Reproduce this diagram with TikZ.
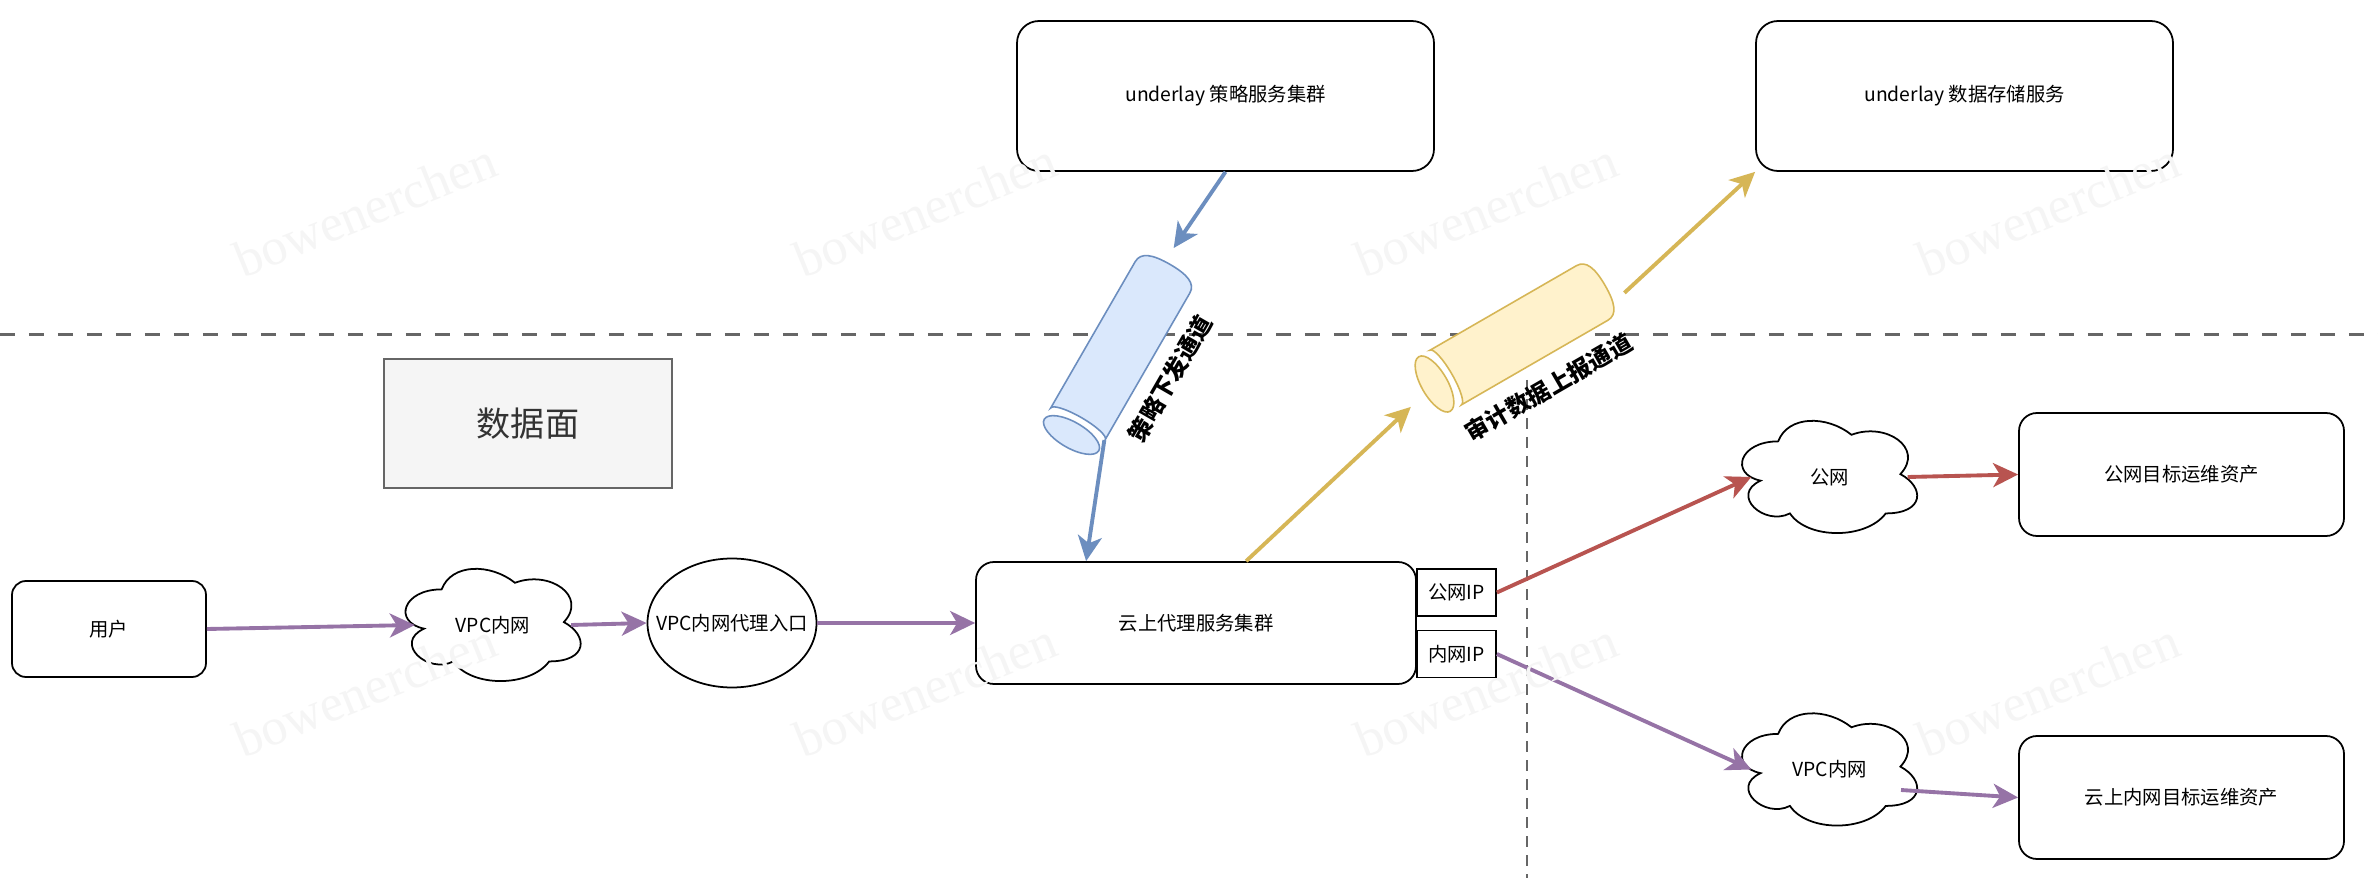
\documentclass[tikz,border=0pt]{standalone}
\usepackage{fontspec}
\setmainfont{Noto Sans CJK SC}
\newfontfamily\markfont{Liberation Serif}
\usetikzlibrary{arrows.meta,shapes.geometric,calc}

\definecolor{edgegray}{HTML}{666666}
\definecolor{flowpurple}{HTML}{9673A6}
\definecolor{flowred}{HTML}{B85450}
\definecolor{flowblue}{HTML}{6C8EBF}
\definecolor{flowyellow}{HTML}{D6B656}
\definecolor{pipeblue}{HTML}{DAE8FC}
\definecolor{pipeyellow}{HTML}{FFF2CC}
\definecolor{planefill}{HTML}{F5F5F5}
\definecolor{planetext}{HTML}{333333}

\tikzset{
  box/.style={draw, line width=0.5pt, rounded corners=0.18cm, fill=white},
  ipbox/.style={draw, line width=0.5pt, fill=white, inner sep=0pt, minimum width=0.79cm, minimum height=0.47cm},
  netcloud/.style={ellipse, inner sep=0pt, minimum width=1.55cm, minimum height=1.0cm},
  planebox/.style={draw=edgegray, fill=planefill, line width=0.45pt, minimum width=2.88cm, minimum height=1.29cm, text=planetext, font=\fontsize{9.7}{11.6}\selectfont},
  flow/.style={line width=1.1pt, -{Stealth[length=0.25cm, width=0.24cm, inset=0.07cm]}},
  pipelabel/.style={font=\fontsize{6.7}{8}\selectfont\bfseries},
  watermark/.style={font=\markfont\fontsize{14.8}{16}\selectfont, text=black!4, rotate=22}
}

% cloud outline drawn round an ellipse node
\newcommand{\drawnetcloud}[1]{%
  \begin{scope}[shift={(#1.center)}, x=1.955cm, y=-1.31cm, shift={(-0.5125,-0.522)}]
    \draw[line width=0.5pt] (0.25,0.25) .. controls (0.05,0.25) and (0,0.5) .. (0.16,0.55)
      .. controls (0,0.66) and (0.18,0.9) .. (0.31,0.8)
      .. controls (0.4,1) and (0.7,1) .. (0.8,0.8)
      .. controls (1,0.8) and (1,0.6) .. (0.875,0.5)
      .. controls (1,0.3) and (0.8,0.1) .. (0.625,0.2)
      .. controls (0.5,0.05) and (0.3,0.05) .. (0.25,0.25) -- cycle;
  \end{scope}}

\begin{document}
\begin{tikzpicture}[font=\fontsize{5.5}{6.6}\selectfont]
\useasboundingbox (0,0) rectangle (23.78,-8.78);
\fill[white] (0,0) rectangle (23.78,-8.78);

% plane dividers
\draw[edgegray, line width=1.1pt, dash pattern=on 0.15cm off 0.14cm] (0,-3.345) -- (23.78,-3.345);
\draw[edgegray, line width=0.8pt, dash pattern=on 0.11cm off 0.08cm] (15.27,-3.8) -- (15.27,-8.78);
\node[planebox] (plane) at (5.28,-4.235) {数据面};

% control side
\node[box, rounded corners=0.22cm, minimum width=4.17cm, minimum height=1.5cm] (policy) at (12.255,-0.96) {underlay 策略服务集群};
\node[box, rounded corners=0.22cm, minimum width=4.17cm, minimum height=1.5cm] (store) at (19.645,-0.96) {underlay 数据存储服务};

% data path
\node[box, rounded corners=0.14cm, minimum width=1.94cm, minimum height=0.96cm] (user) at (1.09,-6.29) {用户};
\node[netcloud] (vpcin) at (4.93,-6.25) {VPC内网};
\node[draw, ellipse, line width=0.5pt, inner sep=0pt, minimum width=1.69cm, minimum height=1.29cm, label=center:{VPC内网代理入口}] (entry) at (7.32,-6.23) {};
\node[box, minimum width=4.4cm, minimum height=1.22cm] (proxy) at (11.96,-6.23) {云上代理服务集群};
\node[ipbox] (pubip) at (14.565,-5.925) {公网IP};
\node[ipbox] (priip) at (14.565,-6.54) {内网IP};

\node[netcloud] (pubnet) at (18.295,-4.77) {公网};
\node[box, minimum width=3.25cm, minimum height=1.23cm] (pubasset) at (21.815,-4.745) {公网目标运维资产};
\node[netcloud] (vpcout) at (18.295,-7.695) {VPC内网};
\node[box, minimum width=3.25cm, minimum height=1.23cm] (priasset) at (21.815,-7.975) {云上内网目标运维资产};

\drawnetcloud{vpcin}
\drawnetcloud{pubnet}
\drawnetcloud{vpcout}

% policy pipe
\begin{scope}[shift={(10.715,-4.35)}, rotate=60]
  \draw[flowblue, fill=pipeblue, line width=0.45pt] (0.13,-0.315) arc[start angle=-90, end angle=90, x radius=0.07, y radius=0.315] -- (1.82,0.315) .. controls (1.93,0.315) and (1.97,0.2) .. (1.97,0) .. controls (1.97,-0.2) and (1.93,-0.315) .. (1.82,-0.315) -- cycle;
  \draw[flowblue, fill=pipeblue, line width=0.45pt] (0,0) ellipse[x radius=0.13, y radius=0.315];
  \coordinate (bluenear) at (0.12,-0.31);
  \coordinate (bluefar) at (2.13,0.05);
  \node[pipelabel, rotate=60] (bluetag) at (0.98,-0.57) {策略下发通道};
\end{scope}

% audit pipe
\begin{scope}[shift={(14.345,-3.84)}, rotate=30]
  \draw[flowyellow, fill=pipeyellow, line width=0.45pt] (0.13,-0.315) arc[start angle=-90, end angle=90, x radius=0.07, y radius=0.315] -- (1.82,0.315) .. controls (1.93,0.315) and (1.97,0.2) .. (1.97,0) .. controls (1.97,-0.2) and (1.93,-0.315) .. (1.82,-0.315) -- cycle;
  \draw[flowyellow, fill=pipeyellow, line width=0.45pt] (0,0) ellipse[x radius=0.13, y radius=0.315];
  \coordinate (yellownear) at (-0.32,-0.08);
  \coordinate (yellowfar) at (2.1,-0.16);
  \node[pipelabel, rotate=30] (yellowtag) at (0.97,-0.6) {审计数据上报通道};
\end{scope}

% flows
\draw[flow, flowpurple] (user.east) -- (vpcin.west);
\draw[flow, flowpurple] (vpcin.east) -- (entry.west);
\draw[flow, flowpurple] (entry.east) -- (proxy.west);
\draw[flow, flowred] (pubip.east) -- (pubnet.west);
\draw[flow, flowred] (pubnet.east) -- (pubasset.west);
\draw[flow, flowpurple] (priip.east) -- (vpcout.west);
\draw[flow, flowpurple] (vpcout.-16) -- (priasset.west);
\draw[flow, flowblue] (policy.south) -- (bluefar);
\draw[flow, flowblue] (bluenear) -- ([xshift=1.11cm]proxy.north west);
\draw[flow, flowyellow] ([xshift=2.71cm]proxy.north west) -- (yellownear);
\draw[flow, flowyellow] (yellowfar) -- (store.south west);

% watermark
\foreach \wx [count=\i] in {3.65,9.25,14.86,20.48}{
  \foreach \wy [count=\j] in {-2.1,-6.9}{
    \node[watermark] (mark\i\j) at (\wx,\wy) {bowenerchen};
  }
}
\end{tikzpicture}
\end{document}
